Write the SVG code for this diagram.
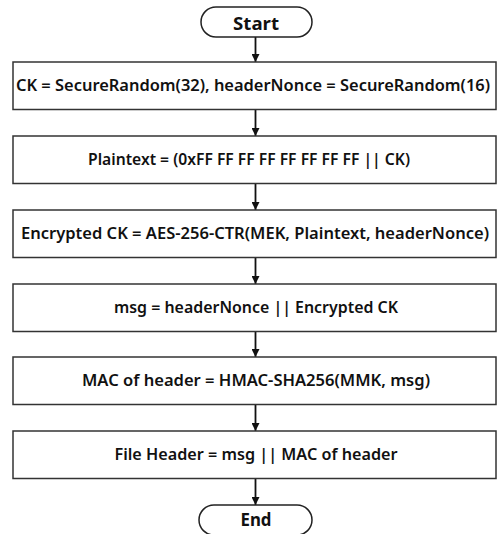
<svg xmlns="http://www.w3.org/2000/svg" width="499" height="534" viewBox="0 0 499 534">
  <defs>
    <style>
      .box { fill: #ffffff; stroke: #333333; stroke-width: 1.5; }
      .pill { fill: #ffffff; stroke: #222222; stroke-width: 1.5; }
      .lbl { font-family: "Noto Sans", "Open Sans", sans-serif; font-weight: 600; font-size: 16px; fill: #111111; text-anchor: middle; }
      .term { font-family: "Noto Sans", "Open Sans", sans-serif; font-weight: 700; font-size: 17.5px; fill: #111111; text-anchor: middle; }
      .edge { stroke: #111111; stroke-width: 1.8; fill: none; marker-end: url(#arrow); }
    </style>
    <marker id="arrow" viewBox="0 0 8 8" refX="8" refY="4" markerWidth="8" markerHeight="8" markerUnits="userSpaceOnUse" orient="auto">
      <path d="M0,0 L8,4 L0,8 Z" fill="#111111"/>
    </marker>
  </defs>
  <rect width="499" height="534" fill="#ffffff"/>

  <!-- connectors -->
  <g id="connectors">
    <line class="edge" x1="255.5" y1="37" x2="255.5" y2="62"/>
    <line class="edge" x1="255.5" y1="109.5" x2="255.5" y2="136"/>
    <line class="edge" x1="255.5" y1="183.5" x2="255.5" y2="210"/>
    <line class="edge" x1="255.5" y1="257.5" x2="255.5" y2="284"/>
    <line class="edge" x1="255.5" y1="331.5" x2="255.5" y2="357"/>
    <line class="edge" x1="255.5" y1="404.5" x2="255.5" y2="431"/>
    <line class="edge" x1="255.5" y1="478.5" x2="255.5" y2="505"/>
  </g>

  <g id="start">
    <rect class="pill" x="201" y="7" width="111" height="30" rx="15" ry="15"/>
    <text class="term" x="256" y="29.5" textLength="46" lengthAdjust="spacingAndGlyphs">Start</text>
  </g>

  <g id="gen-keys">
    <rect class="box" x="13" y="62" width="483" height="47.5"/>
    <text class="lbl" x="253" y="91" textLength="474" lengthAdjust="spacingAndGlyphs">CK = SecureRandom(32), headerNonce = SecureRandom(16)</text>
  </g>

  <g id="plaintext">
    <rect class="box" x="13" y="136" width="483" height="47.5"/>
    <text class="lbl" x="249" y="165" textLength="322" lengthAdjust="spacingAndGlyphs">Plaintext = (0xFF FF FF FF FF FF FF FF || CK)</text>
  </g>

  <g id="encrypt">
    <rect class="box" x="13" y="210" width="483" height="47.5"/>
    <text class="lbl" x="255" y="239" textLength="468" lengthAdjust="spacingAndGlyphs">Encrypted CK = AES-256-CTR(MEK, Plaintext, headerNonce)</text>
  </g>

  <g id="msg">
    <rect class="box" x="13" y="284" width="483" height="47.5"/>
    <text class="lbl" x="256" y="313" textLength="284" lengthAdjust="spacingAndGlyphs">msg = headerNonce || Encrypted CK</text>
  </g>

  <g id="mac">
    <rect class="box" x="13" y="357" width="483" height="47.5"/>
    <text class="lbl" x="256" y="386" textLength="348" lengthAdjust="spacingAndGlyphs">MAC of header = HMAC-SHA256(MMK, msg)</text>
  </g>

  <g id="file-header">
    <rect class="box" x="13" y="431" width="483" height="47.5"/>
    <text class="lbl" x="256" y="460" textLength="283" lengthAdjust="spacingAndGlyphs">File Header = msg || MAC of header</text>
  </g>

  <g id="end">
    <rect class="pill" x="199" y="505" width="113" height="30" rx="15" ry="15"/>
    <text class="term" x="256" y="525.5" textLength="31" lengthAdjust="spacingAndGlyphs">End</text>
  </g>
</svg>
